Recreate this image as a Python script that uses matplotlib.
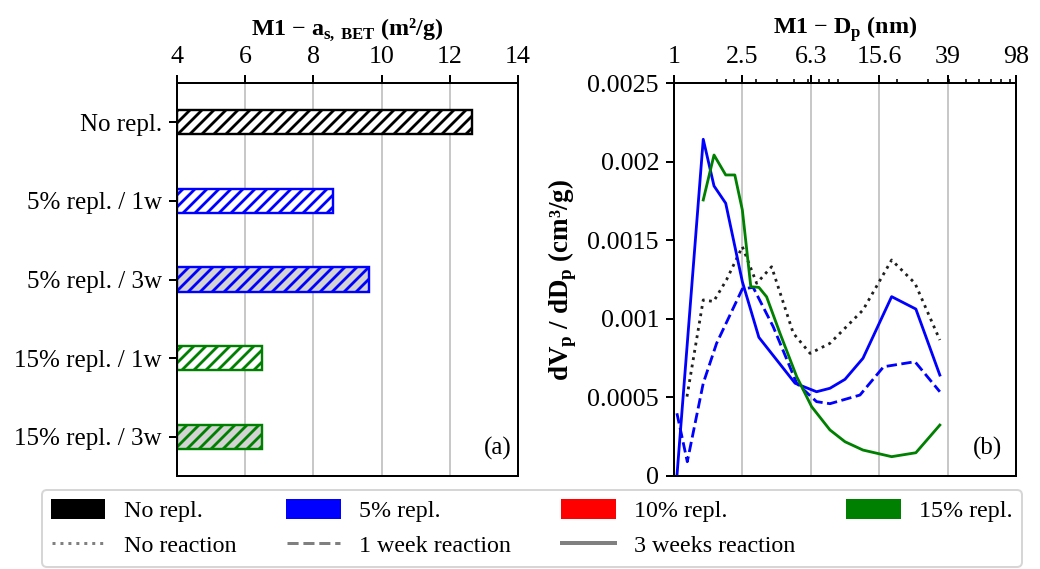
import numpy as np
import matplotlib
matplotlib.use('Agg')
import matplotlib.pyplot as plt
from matplotlib.patches import Patch
from matplotlib.lines import Line2D
from matplotlib.ticker import FixedLocator, LogLocator, NullFormatter

plt.rcParams['font.family'] = ['Liberation Serif', 'DejaVu Serif']
plt.rcParams['font.size'] = 12
plt.rcParams['mathtext.fontset'] = 'custom'
plt.rcParams['mathtext.rm'] = 'Liberation Serif'
plt.rcParams['mathtext.bf'] = 'Liberation Serif:bold'
plt.rcParams['hatch.linewidth'] = 1.4

# (a) BET surface area
categories = ['No repl.', '5% repl. / 1w', '5% repl. / 3w', '15% repl. / 1w', '15% repl. / 3w']
bet_values = [12.65, 8.57, 9.63, 6.49, 6.49]
bar_colors = ['black', 'blue', 'blue', 'green', 'green']
bar_fills = ['white', 'white', 'lightgray', 'white', 'lightgray']

# (b) pore size distribution (dV/dD)
no_repl_d = [1.19, 1.48, 1.70, 2.02, 2.50, 3.03, 3.70, 4.95, 6.20, 8.09, 12.6, 18.5, 25.3, 35.3]
no_repl_v = [0.000505, 0.00112, 0.00111, 0.001247, 0.001459, 0.001226, 0.001331, 0.000908,
             0.00078, 0.000844, 0.001056, 0.001374, 0.001226, 0.000865]

r5_1w_d = [1.04, 1.195, 1.48, 1.77, 2.50, 2.89, 3.78, 5.18, 6.76, 8.09, 12.1, 16.6, 25.3, 35.3]
r5_1w_v = [0.000399, 0.000091, 0.00059, 0.000844, 0.00119, 0.0012, 0.00095, 0.00059,
           0.000473, 0.00046, 0.000515, 0.000695, 0.000727, 0.000536]

r5_3w_d = [1.04, 1.48, 1.71, 2.00, 2.50, 3.12, 5.07, 6.76, 8.09, 9.9, 12.6, 18.5, 25.6, 35.3]
r5_3w_v = [0.0, 0.002142, 0.001845, 0.001735, 0.001236, 0.000882, 0.00059, 0.000536,
           0.000558, 0.000615, 0.000749, 0.001141, 0.001062, 0.000642]

r15_3w_d = [1.48, 1.71, 2.00, 2.26, 2.50, 2.80, 3.12, 3.46, 4.14, 5.18, 6.33, 8.09, 9.9,
            12.6, 18.5, 25.6, 35.3]
r15_3w_v = [0.001756, 0.002042, 0.001915, 0.001915, 0.001692, 0.001204, 0.0012, 0.00114,
            0.000908, 0.000632, 0.000441, 0.000293, 0.000218, 0.000165, 0.000123, 0.000148,
            0.000324]

d_tick_labels = ['1', '2.5', '6.3', '15.6', '39', '98']
y_tick_values = [0, 0.0005, 0.001, 0.0015, 0.002, 0.0025]
y_tick_labels = ['0', '0.0005', '0.001', '0.0015', '0.002', '0.0025']

fig = plt.figure(figsize=(1040 / 144, 569 / 144), dpi=144)
ax1 = fig.add_axes([177 / 1040, 1 - 476 / 569, 341 / 1040, 393 / 569])
ax2 = fig.add_axes([674 / 1040, 1 - 476 / 569, 342 / 1040, 393 / 569])

# --- (a) bars
ypos = np.arange(len(categories))
for y, v, c, f in zip(ypos, bet_values, bar_colors, bar_fills):
    ax1.barh(y, v - 4, left=4, height=0.31, color=f, edgecolor=c, hatch='////', linewidth=1.2)
ax1.set_yticks(ypos)
ax1.set_yticklabels(categories, fontsize=12.5)
ax1.set_ylim(4.5, -0.5)
ax1.set_xlim(4, 14)
ax1.set_xticks([4, 6, 8, 10, 12, 14])
ax1.tick_params(axis='x', labelsize=13)
ax1.xaxis.tick_top()
ax1.xaxis.set_label_position('top')
ax1.set_xlabel(r'M1 $-$ a$_{\mathbf{s,\,BET}}$ (m²/g)', fontweight='bold', labelpad=6)
ax1.grid(axis='x', color='#c8c8c8', linewidth=1.0)
ax1.set_axisbelow(True)
ax1.text(0.98, 0.04, '(a)', transform=ax1.transAxes, ha='right', va='bottom', fontsize=12.5)

# --- (b) lines
ax2.plot(no_repl_d, no_repl_v, color='#202020', linestyle=':', linewidth=1.4)
ax2.plot(r5_1w_d, r5_1w_v, color='blue', linestyle='--', linewidth=1.4)
ax2.plot(r5_3w_d, r5_3w_v, color='blue', linestyle='-', linewidth=1.4)
ax2.plot(r15_3w_d, r15_3w_v, color='green', linestyle='-', linewidth=1.4)
ax2.set_xscale('log')
ax2.set_xlim(1, 98)
ax2.set_ylim(0, 0.0025)
ax2.xaxis.set_major_locator(FixedLocator(np.geomspace(1, 98, len(d_tick_labels))))
ax2.xaxis.set_minor_locator(LogLocator(base=10, subs=np.arange(2, 10)))
ax2.xaxis.set_minor_formatter(NullFormatter())
ax2.set_xticklabels(d_tick_labels)
ax2.xaxis.tick_top()
ax2.xaxis.set_label_position('top')
ax2.set_xlabel(r'M1 $-$ D$_{\mathbf{p}}$ (nm)', fontweight='bold', labelpad=6)
ax2.set_yticks(y_tick_values)
ax2.set_yticklabels(y_tick_labels)
ax2.tick_params(axis='both', labelsize=13)
ax2.set_ylabel(r'dV$_{\mathbf{p}}$ / dD$_{\mathbf{p}}$ (cm³/g)', fontweight='bold', fontsize=13.5)
ax2.grid(axis='x', which='major', color='#c8c8c8', linewidth=1.0)
ax2.set_axisbelow(True)
ax2.text(0.96, 0.04, '(b)', transform=ax2.transAxes, ha='right', va='bottom', fontsize=12.5)

for ax in (ax1, ax2):
    for sp in ax.spines.values():
        sp.set_linewidth(1.0)
    ax.tick_params(which='major', length=4, width=1.0)
    ax.tick_params(which='minor', length=2, width=0.8)

# --- legend
handles = [Patch(color='black', label='No repl.'),
           Line2D([], [], color='grey', linestyle=':', linewidth=1.5, label='No reaction'),
           Patch(color='blue', label='5% repl.'),
           Line2D([], [], color='grey', linestyle='--', linewidth=1.5, label='1 week reaction'),
           Patch(color='red', label='10% repl.'),
           Line2D([], [], color='grey', linestyle='-', linewidth=2.0, label='3 weeks reaction'),
           Patch(color='green', label='15% repl.')]
fig.legend(handles=handles, loc='upper left', ncol=4, mode='expand',
           bbox_to_anchor=(42 / 1040, 1 - 496 / 569, 980 / 1040, 0.01),
           handlelength=2.2, handleheight=0.8, handletextpad=0.8, borderaxespad=0.0)

fig.savefig('out.png', dpi=144)
